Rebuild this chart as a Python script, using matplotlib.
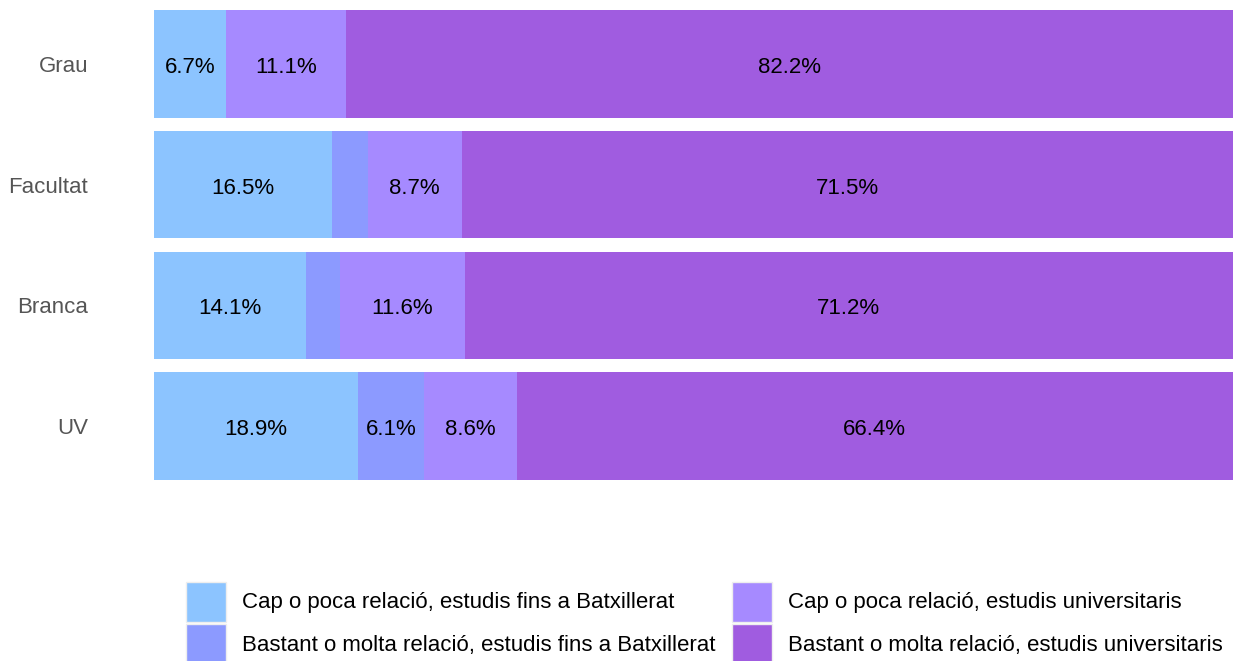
import numpy as np
import matplotlib.pyplot as plt
from matplotlib.patches import Patch

plt.rcParams['font.family'] = ['Liberation Sans', 'DejaVu Sans']

categories = ["Grau", "Facultat", "Branca", "UV"]
series_names = [
    "Cap o poca relació, estudis fins a Batxillerat",
    "Bastant o molta relació, estudis fins a Batxillerat",
    "Cap o poca relació, estudis universitaris",
    "Bastant o molta relació, estudis universitaris",
]
cap_batx = [6.7, 16.5, 14.1, 18.9]
bastant_batx = [0.0, 3.3, 3.1, 6.1]
cap_univ = [11.1, 8.7, 11.6, 8.6]
bastant_univ = [82.2, 71.5, 71.2, 66.4]
colors = ["#8cc4ff", "#8c9aff", "#a68aff", "#a05ce0"]

series = [cap_batx, bastant_batx, cap_univ, bastant_univ]

W, H = 1233, 661
FS = 16
fig = plt.figure(figsize=(W / 100, H / 100), dpi=100)
ax = fig.add_axes([154 / W, 1 - 480 / H, 1 - 154 / W, 470 / H])

y = np.arange(len(categories))
left = np.zeros(len(categories))
for vals, col in zip(series, colors):
    vals = np.array(vals)
    ax.barh(y, vals, left=left, height=0.89, color=col, linewidth=0)
    for yi, v, l in zip(y, vals, left):
        if v >= 5:
            # small downward nudge so digits sit at the bar's visual middle
            ax.annotate(f"{v:.1f}%", (l + v / 2, yi), xytext=(0, -2.5),
                        textcoords="offset points", ha="center", va="center",
                        fontsize=FS, color="black")
    left += vals

ax.set_xlim(0, 100)
ax.set_ylim(len(categories) - 0.555, -0.445)
ax.set_yticks(y)
ax.set_yticklabels(categories, fontsize=FS, color="#555555")
ax.tick_params(axis="y", length=0, pad=47.5)
ax.set_xticks([])
for s in ax.spines.values():
    s.set_visible(False)

hs = 40 / (FS * 100 / 72)
handles = [Patch(facecolor=c, edgecolor="#eeeeee", linewidth=1) for c in colors]
fig.legend(handles, series_names, ncol=2, loc="lower left",
           bbox_to_anchor=(186 / W, -3 / H), frameon=False, fontsize=FS,
           handlelength=hs, handleheight=hs * 4 / 3, handletextpad=0.72,
           labelspacing=0.1, columnspacing=0.72, borderaxespad=0.0,
           borderpad=0.0)

fig.savefig("out.png", dpi=100)
